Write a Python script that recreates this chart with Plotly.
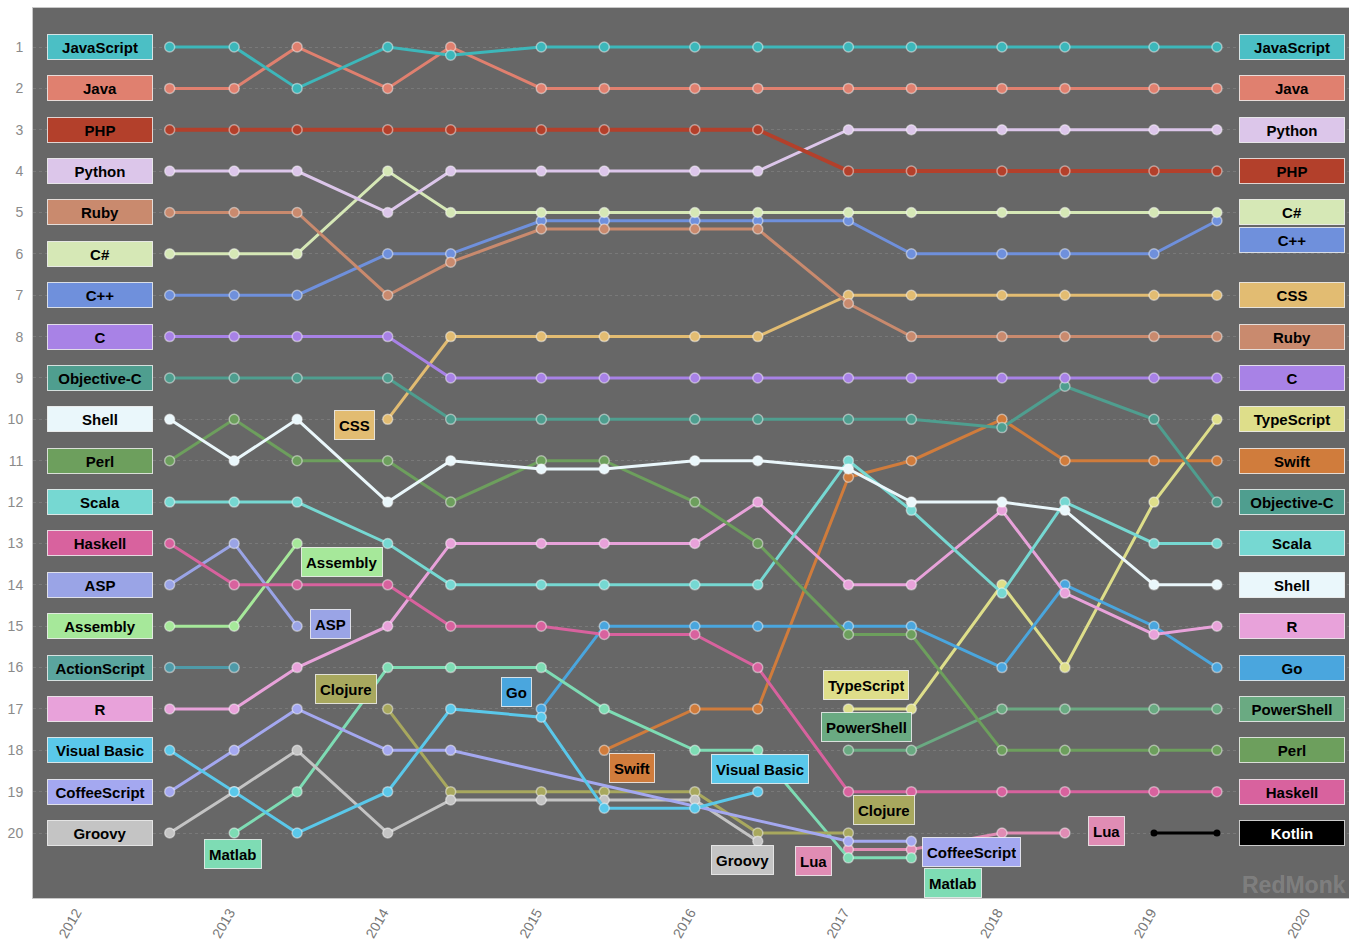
import plotly.graph_objects as go

# ---------------- data ----------------
periods = [2012.61, 2013.03, 2013.44, 2014.03, 2014.44, 2015.03, 2015.44,
           2016.03, 2016.44, 2017.03, 2017.44, 2018.03, 2018.44, 2019.02, 2019.43]
year_ticks = [2012, 2013, 2014, 2015, 2016, 2017, 2018, 2019, 2020]
rank_ticks = list(range(1, 21))
N = None

javascript = [1, 1, 2, 1, 1.2, 1, 1, 1, 1, 1, 1, 1, 1, 1, 1]
java = [2, 2, 1, 2, 1, 2, 2, 2, 2, 2, 2, 2, 2, 2, 2]
php = [3, 3, 3, 3, 3, 3, 3, 3, 3, 4, 4, 4, 4, 4, 4]
python = [4, 4, 4, 5, 4, 4, 4, 4, 4, 3, 3, 3, 3, 3, 3]
ruby = [5, 5, 5, 7, 6.2, 5.4, 5.4, 5.4, 5.4, 7.2, 8, 8, 8, 8, 8]
csharp = [6, 6, 6, 4, 5, 5, 5, 5, 5, 5, 5, 5, 5, 5, 5]
cpp = [7, 7, 7, 6, 6, 5.2, 5.2, 5.2, 5.2, 5.2, 6, 6, 6, 6, 5.2]
c_lang = [8, 8, 8, 8, 9, 9, 9, 9, 9, 9, 9, 9, 9, 9, 9]
objective_c = [9, 9, 9, 9, 10, 10, 10, 10, 10, 10, 10, 10.2, 9.2, 10, 12]
shell = [10, 11, 10, 12, 11, 11.2, 11.2, 11, 11, 11.2, 12, 12, 12.2, 14, 14]
perl = [11, 10, 11, 11, 12, 11, 11, 12, 13, 15.2, 15.2, 18, 18, 18, 18]
scala = [12, 12, 12, 13, 14, 14, 14, 14, 14, 11, 12.2, 14.2, 12, 13, 13]
haskell = [13, 14, 14, 14, 15, 15, 15.2, 15.2, 16, 19, 19, 19, 19, 19, 19]
asp = [14, 13, 15, N, N, N, N, N, N, N, N, N, N, N, N]
assembly = [15, 15, 13, N, N, N, N, N, N, N, N, N, N, N, N]
actionscript = [16, 16, N, N, N, N, N, N, N, N, N, N, N, N, N]
r_lang = [17, 17, 16, 15, 13, 13, 13, 13, 12, 14, 14, 12.2, 14.2, 15.2, 15]
visual_basic = [18, 19, 20, 19, 17, 17.2, 19.4, 19.4, 19, N, N, N, N, N, N]
coffeescript = [19, 18, 17, 18, 18, N, N, N, N, 20.2, 20.2, N, N, N, N]
groovy = [20, 19, 18, 20, 19.2, 19.2, 19.2, 19.2, 20.2, N, N, N, N, N, N]
css = [N, N, N, 10, 8, 8, 8, 8, 8, 7, 7, 7, 7, 7, 7]
clojure = [N, N, N, 17, 19, 19, 19, 19, 20, 20, N, N, N, N, N]
matlab = [N, 20, 19, 16, 16, 16, 17, 18, 18, 20.6, 20.6, N, N, N, N]
go_lang = [N, N, N, N, N, 17, 15, 15, 15, 15, 15, 16, 14, 15, 16]
swift = [N, N, N, N, N, N, 18, 17, 17, 11.4, 11, 10, 11, 11, 11]
typescript = [N, N, N, N, N, N, N, N, N, 17, 17, 14, 16, 12, 10]
powershell = [N, N, N, N, N, N, N, N, N, 18, 18, 17, 17, 17, 17]
lua = [N, N, N, N, N, N, N, N, N, 20.4, 20.4, 20, 20, N, N]
kotlin = [N, N, N, N, N, N, N, N, N, N, N, N, N, 20, 20]

# ---------------- styles ----------------
series = [
    ("JavaScript", javascript, "#3db7ba"),
    ("Java", java, "#e0806f"),
    ("PHP", php, "#b3402b"),
    ("Python", python, "#dcc6ea"),
    ("Ruby", ruby, "#c98a6e"),
    ("C#", csharp, "#d6e8b6"),
    ("C++", cpp, "#6f90dc"),
    ("C", c_lang, "#a882e6"),
    ("Objective-C", objective_c, "#4f9e8f"),
    ("Shell", shell, "#eaf7fb"),
    ("Perl", perl, "#6d9f5d"),
    ("Scala", scala, "#76d8d2"),
    ("Haskell", haskell, "#d8629e"),
    ("ASP", asp, "#9aa4e6"),
    ("Assembly", assembly, "#a6e89a"),
    ("ActionScript", actionscript, "#4f9aa8"),
    ("R", r_lang, "#e8a2da"),
    ("Visual Basic", visual_basic, "#5ac8ea"),
    ("CoffeeScript", coffeescript, "#a4a8f0"),
    ("Groovy", groovy, "#c4c4c4"),
    ("CSS", css, "#e2bc72"),
    ("Clojure", clojure, "#a8a85e"),
    ("Matlab", matlab, "#7edcb4"),
    ("Go", go_lang, "#4aa6de"),
    ("Swift", swift, "#d07c3c"),
    ("TypeScript", typescript, "#dede8a"),
    ("PowerShell", powershell, "#6aaa82"),
    ("Lua", lua, "#e08cb4"),
    ("Kotlin", kotlin, "#000000"),
]
label_bg = {"ActionScript": "#5aa59e", "JavaScript": "#4bbfc5"}

# inline labels: (series, end, xshift, yshift)
inline_labels = [
    ("CSS", "first", -33, -6),
    ("Assembly", "last", 45, -19),
    ("ASP", "last", 33, 2),
    ("Clojure", "first", -42, 20),
    ("Go", "first", -25, 17),
    ("Matlab", "first", -1, -21),
    ("Swift", "first", 28, -18),
    ("Visual Basic", "last", 2, 23),
    ("TypeScript", "first", 18, 24),
    ("PowerShell", "first", 18, 23),
    ("Clojure", "last", 36, 23),
    ("Groovy", "last", -15, -19),
    ("Lua", "first", -35, -11),
    ("CoffeeScript", "last", 60, -11),
    ("Matlab", "last", 42, -25),
    ("Lua", "last", 42, 2),
]

LEFT_X = 2012.156
RIGHT_X = 2019.92
FONT = "Liberation Sans, Arial, sans-serif"

fig = go.Figure()
for name, vals, col in reversed(series):
    is_k = name == "Kotlin"
    fig.add_trace(go.Scatter(
        x=periods, y=vals, mode="lines+markers", name=name, connectgaps=True,
        line=dict(color=col, width=4 if name == "PHP" else 3),
        marker=dict(size=7 if is_k else 10, color=col,
                    line=dict(color="rgba(0,0,0,0)" if is_k else "rgba(255,255,255,0.45)",
                              width=1.5)),
        showlegend=False, hoverinfo="name+y"))

annotations = []


def box(text, x, y, col, width=None, xshift=0, yshift=0):
    fcol = "white" if col == "#000000" else "black"
    d = dict(text=text, x=x, y=y, xref="x", yref="y", showarrow=False,
             bgcolor=col, bordercolor="rgba(255,255,255,0.75)", borderwidth=1,
             borderpad=2 if width else 4, height=20,
             font=dict(family=FONT, size=15, color=fcol, weight="bold"),
             xshift=xshift, yshift=yshift, xanchor="center", yanchor="middle")
    if width:
        d["width"] = width
    annotations.append(d)


lookup = {n: (v, c) for n, v, c in series}

# left column labels
for name, vals, col in series:
    if vals[0] is not None:
        box(name, LEFT_X, vals[0], label_bg.get(name, col), width=100)

# right column labels with collision avoidance
ends = sorted([(v[-1], n, c) for n, v, c in series if v[-1] is not None])
prev = -10
for val, name, col in ends:
    y = val if val - prev >= 0.66 else prev + 0.67
    prev = y
    box(name, RIGHT_X, y, label_bg.get(name, col), width=100)

# inline labels
for name, end, xs, ys in inline_labels:
    vals, col = lookup[name]
    idxs = [i for i, v in enumerate(vals) if v is not None]
    i = idxs[0] if end == "first" else idxs[-1]
    box(name, periods[i], vals[i], col, xshift=xs, yshift=ys)

annotations.append(dict(text="<b>RedMonk</b>", xref="paper", yref="paper", x=0.958, y=0.015,
                        xanchor="center", yanchor="middle", showarrow=False,
                        font=dict(family="Liberation Sans Narrow, Liberation Sans, Arial",
                                  size=23, color="rgba(255,255,255,0.18)")))

fig.update_layout(
    width=1349, height=943,
    margin=dict(l=33, r=0, t=8, b=45),
    paper_bgcolor="white", plot_bgcolor="#676767",
    annotations=annotations,
    xaxis=dict(range=[2011.72, 2020.29], tickvals=year_ticks,
               ticktext=[str(y) for y in year_ticks], tickangle=-60,
               showgrid=False, zeroline=False, showline=True, linecolor="#c8c8c8",
               linewidth=1, mirror=True,
               tickfont=dict(family=FONT, size=14, color="#777777")),
    yaxis=dict(range=[21.57, 0.057], tickvals=rank_ticks,
               ticktext=[str(r) for r in rank_ticks],
               showgrid=True, gridcolor="rgba(255,255,255,0.12)", griddash="dot",
               zeroline=False, showline=True, linecolor="#c8c8c8", linewidth=1,
               mirror=True, ticklabelstandoff=6,
               tickfont=dict(family=FONT, size=14, color="#8a8a8a")),
)

fig.write_html("out.html", config={"displayModeBar": False},
               post_script="document.body.style.margin='0';")
